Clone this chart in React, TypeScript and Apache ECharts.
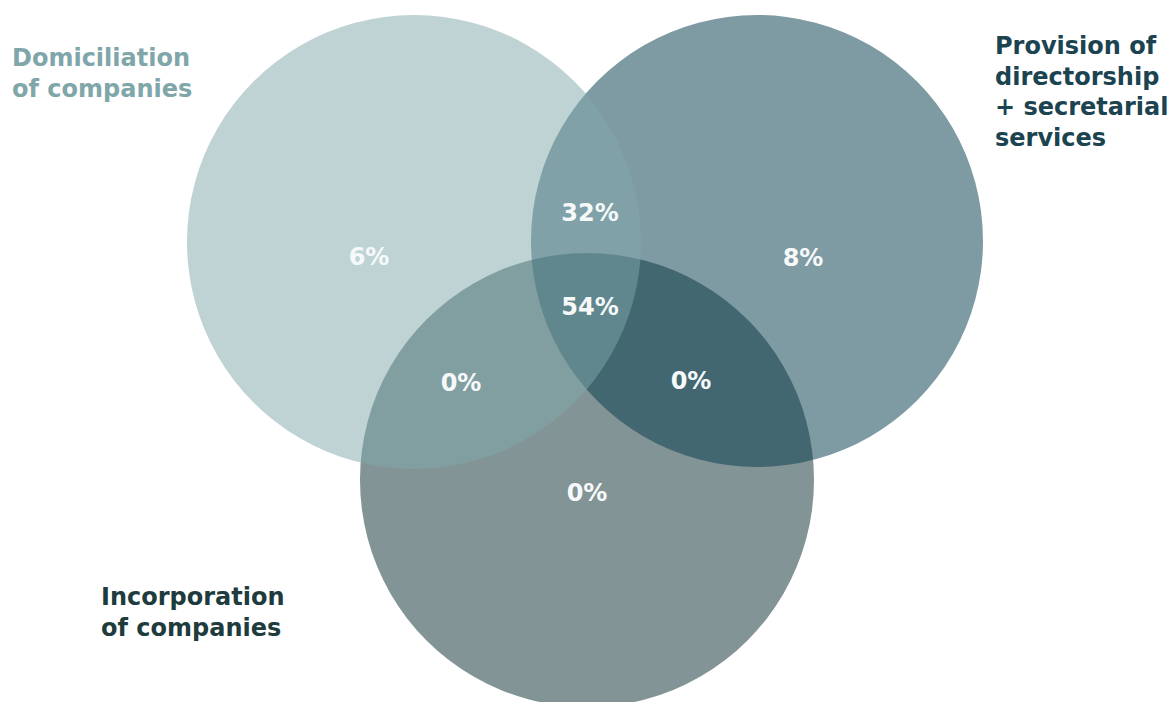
import React, { useEffect, useRef } from "react";
import * as echarts from "echarts";

// Sets (circles) — drawn bottom to top: Incorporation, Provision, Domiciliation
const setNames = ["Incorporation\nof companies", "Provision of\ndirectorship\n+ secretarial\nservices", "Domiciliation\nof companies"];
const circleX = [587, 757, 414];
const circleY = [480, 241, 242];
const circleR = [227, 226, 227];
const circleFill = ["#839496", "rgba(11,64,79,0.53)", "rgba(127,167,171,0.5)"];
const nameX = [101, 995, 12];
const nameY = [582, 31, 43];
const nameColor = ["#1e3b3d", "#1b4350", "#7fa6a9"];

// Region values
const regionNames = ["Domiciliation only", "Domiciliation + Provision", "Provision only", "All three", "Domiciliation + Incorporation", "Provision + Incorporation", "Incorporation only"];
const regionValues = [6, 32, 8, 54, 0, 0, 0];
const regionX = [369, 590, 803, 590, 461, 691, 587];
const regionY = [257, 213, 258, 307, 383, 381, 493];

const FONT = "'DejaVu Sans', Verdana, sans-serif";

export default function App() {
  const ref = useRef<HTMLDivElement>(null);
  useEffect(() => {
    document.body.style.margin = "0";
    const chart = echarts.init(ref.current!, null, { renderer: "svg" });
    chart.setOption({
      animation: false,
      backgroundColor: "#ffffff",
      grid: { left: 0, right: 0, top: 0, bottom: 0 },
      xAxis: { type: "value", min: 0, max: 1172, show: false },
      yAxis: { type: "value", min: 0, max: 702, inverse: true, show: false },
      series: [
        {
          type: "custom",
          name: "sets",
          clip: false,
          data: circleX.map((x, i) => [x, circleY[i], circleR[i]]),
          renderItem: (params: any, api: any) => {
            const c = api.coord([api.value(0), api.value(1)]);
            const r = api.size([api.value(2), 0])[0];
            return {
              type: "circle",
              shape: { cx: c[0], cy: c[1], r },
              style: { fill: circleFill[params.dataIndex] },
            };
          },
        },
        {
          type: "custom",
          name: "setNames",
          clip: false,
          data: nameX.map((x, i) => [x, nameY[i]]),
          renderItem: (params: any, api: any) => {
            const c = api.coord([api.value(0), api.value(1)]);
            return {
              type: "text",
              x: c[0],
              y: c[1],
              style: {
                text: setNames[params.dataIndex],
                fill: nameColor[params.dataIndex],
                font: `bold 24px ${FONT}`,
                align: "left",
                verticalAlign: "top",
                lineHeight: 30.5,
              },
            };
          },
        },
        {
          type: "custom",
          name: "regions",
          clip: false,
          data: regionX.map((x, i) => [x, regionY[i], regionValues[i]]),
          renderItem: (params: any, api: any) => {
            const c = api.coord([api.value(0), api.value(1)]);
            return {
              type: "text",
              x: c[0],
              y: c[1],
              style: {
                text: api.value(2) + "%",
                fill: "#f6f9f9",
                font: `bold 24px ${FONT}`,
                align: "center",
                verticalAlign: "middle",
              },
            };
          },
        },
      ],
    });
    return () => chart.dispose();
  }, []);
  return <div ref={ref} style={{ width: 1172, height: 702 }} />;
}
